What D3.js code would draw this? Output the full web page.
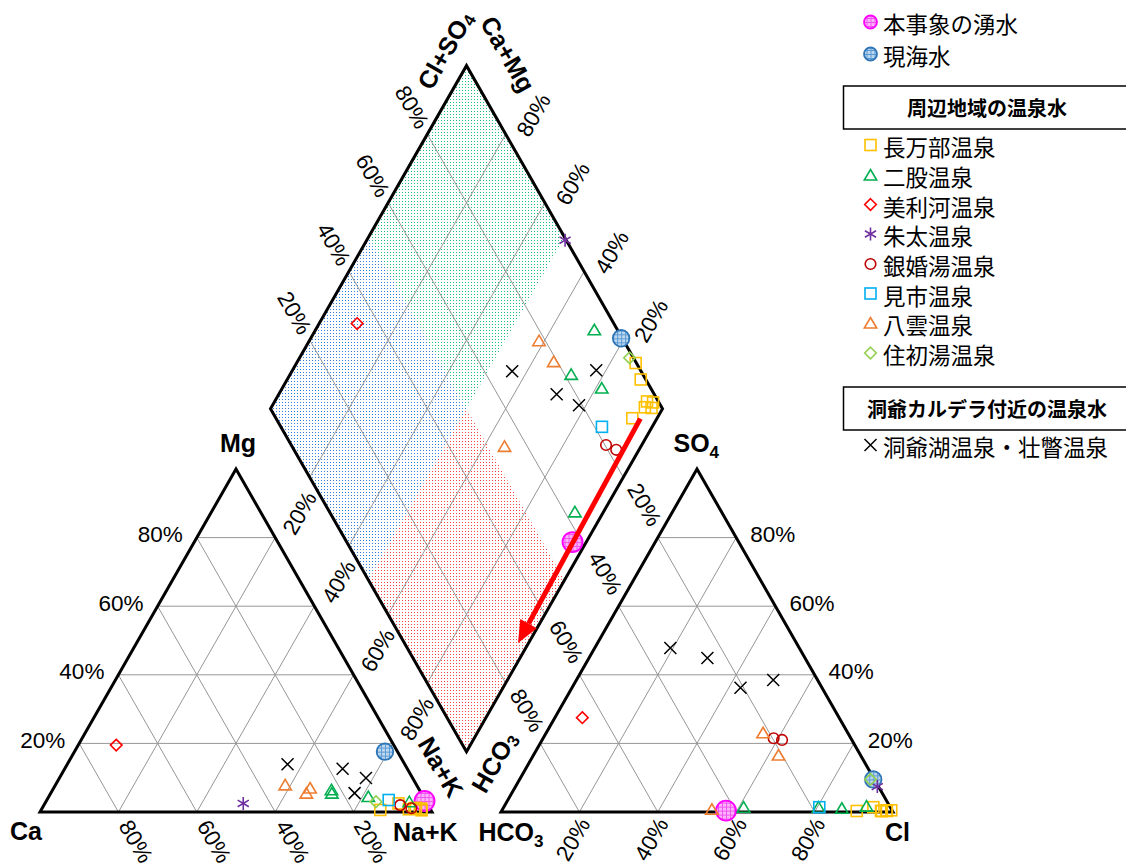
<!DOCTYPE html>
<html><head><meta charset="utf-8">
<script src="https://cdn.jsdelivr.net/npm/d3@7"></script>
<style>
body{margin:0;background:#fff;}
svg{display:block;font-family:Arial,"Liberation Sans",sans-serif;}
</style></head><body>
<svg id="c" width="1126" height="864"></svg>
<script>
// ---------- DATA (meq%) : each sample = [Mg%, Na+K%, SO4%, Cl%] ; Ca% = 100-Mg-NaK, HCO3% = 100-SO4-Cl
const percentTicks = [20, 40, 60, 80];
const tickLabels = ["20%", "40%", "60%", "80%"];
const seriesNames = ["本事象の湧水", "現海水", "長万部温泉", "二股温泉", "美利河温泉", "朱太温泉",
  "銀婚湯温泉", "見市温泉", "八雲温泉", "住初湯温泉", "洞爺湖温泉・壮瞥温泉"];
const springWater = [[3.2, 96.5, 0.4, 57.2]];
const seaWater = [[17.6, 79.2, 9.5, 90.2]];
const oshamambe = [[0.6, 86.5, 0.5, 99.3], [2.5, 90.2, 0.5, 98.2], [1.0, 95.0, 0.3, 96.8],
  [1.0, 96.7, 0.3, 98.2], [0.5, 97.1, 0.3, 97.0], [1.2, 95.3, 1.4, 94.3], [0.8, 93.7, 0.3, 90.6]];
const futamata = [[6.5, 71.1, 1.7, 92.4], [5.5, 71.7, 1.4, 80.3], [4.5, 81.5, 1.1, 86.4], [3.0, 92.7, 1.4, 61.2]];
const pirika = [[19.5, 9.7, 27.5, 7.0]];
const shuta = [[2.5, 50.6, 7.4, 92.3]];
const ginkonyu = [[2.0, 90.9, 21.5, 58.8], [1.1, 94.2, 21.0, 61.2]];
const miichi = [[3.5, 87.2, 1.4, 80.5]];
const yakumo = [[7.9, 58.6, 23.1, 55.3], [7.0, 65.4, 16.6, 62.5], [5.5, 65.2, 0.8, 53.4]];
const sumizomeyu = [[3.0, 84.2, 9.5, 89.5]];
const toya = [[13.9, 56.2, 47.8, 19.3], [12.6, 70.9, 44.9, 30.2], [9.9, 78.2, 36.2, 43.0], [5.5, 77.5, 38.5, 50.2]];
// arrow annotation in diamond units: [Na+K%, Cl+SO4%] tail -> head
const arrowFrom = [95.8, 92.9];
const arrowTo = [97.3, 29.0];

// ---------- SERIES TABLE
const series = [
  {name: seriesNames[0], data: springWater, shape: "bigcircle", color: "#ff00ff", fill: "url(#hatchPink)", r: 10, lr: 6.5},
  {name: seriesNames[1], data: seaWater, shape: "bigcircle", color: "#2e75b6", fill: "url(#hatchBlue)", r: 8.3, lr: 6.5},
  {name: seriesNames[2], data: oshamambe, shape: "square", color: "#ffc000"},
  {name: seriesNames[3], data: futamata, shape: "triangle", color: "#00b050"},
  {name: seriesNames[4], data: pirika, shape: "diamond", color: "#ff0000"},
  {name: seriesNames[5], data: shuta, shape: "asterisk", color: "#7030a0"},
  {name: seriesNames[6], data: ginkonyu, shape: "circle", color: "#c00000"},
  {name: seriesNames[7], data: miichi, shape: "square", color: "#00b0f0"},
  {name: seriesNames[8], data: yakumo, shape: "triangle", color: "#ed7d31"},
  {name: seriesNames[9], data: sumizomeyu, shape: "diamond", color: "#92d050"},
  {name: seriesNames[10], data: toya, shape: "x", color: "#000000"}
];

// ---------- SCALES (unit ternary space -> pixels)
const G = 0.176, H = Math.sqrt(3) / 2;
const x = d3.scaleLinear().domain([0, 2 + G]).range([40, 893]);
const y = d3.scaleLinear().domain([0, H]).range([812, 469]);
const cat = (mg, na) => [x(na / 100 + mg / 200), y(mg / 100 * H)];
const ani = (so4, cl) => [x(1 + G + cl / 100 + so4 / 200), y(so4 / 100 * H)];
const dia = (na, cs) => { const a = 1 - na / 100, b = cs / 100; return [x(1 + G / 2 + 0.5 * (b - a)), y(G * H + H * (a + b))]; };

const svg = d3.select("#c");
const defs = svg.append("defs");
function dotPattern(id, color) {
  const p = defs.append("pattern").attr("id", id).attr("patternUnits", "userSpaceOnUse").attr("width", 3).attr("height", 3);
  p.append("rect").attr("width", 1).attr("height", 1).attr("fill", color);
}
dotPattern("dotG", "#19c07a");
dotPattern("dotB", "#2f7fe0");
dotPattern("dotR", "#ff4040");
function hatch(id, bg, line) {
  const p = defs.append("pattern").attr("id", id).attr("patternUnits", "userSpaceOnUse").attr("width", 4).attr("height", 4);
  p.append("rect").attr("width", 4).attr("height", 4).attr("fill", bg);
  p.append("rect").attr("width", 4).attr("height", 1).attr("fill", line);
  p.append("rect").attr("width", 1).attr("height", 4).attr("fill", line);
}
hatch("hatchPink", "#ffb3ff", "#ee55ee");
hatch("hatchBlue", "#bdd7ee", "#5b9bd5");

const line = d3.line();
// ---------- SHADING in diamond
const shade = [
  {fill: "url(#dotG)", pts: [dia(50, 50), dia(0, 50), dia(0, 100), dia(50, 100)]},
  {fill: "url(#dotB)", pts: [dia(50, 50), dia(0, 50), dia(0, 0), dia(50, 0)]},
  {fill: "url(#dotR)", pts: [dia(50, 50), dia(100, 50), dia(100, 0), dia(50, 0)]}
];
svg.append("g").selectAll("path").data(shade).join("path")
  .attr("d", d => line(d.pts) + "Z").attr("fill", d => d.fill);

// ---------- GRID
const grid = [];
percentTicks.forEach(p => {
  grid.push([cat(p, 0), cat(p, 100 - p)], [cat(0, p), cat(100 - p, p)], [cat(0, 100 - p), cat(100 - p, 0)]);
  grid.push([ani(p, 0), ani(p, 100 - p)], [ani(0, p), ani(100 - p, p)], [ani(0, 100 - p), ani(100 - p, 0)]);
  grid.push([dia(p, 0), dia(p, 100)], [dia(0, p), dia(100, p)]);
});
svg.append("g").selectAll("path").data(grid).join("path")
  .attr("d", d => line(d)).attr("stroke", "#969696").attr("stroke-width", 1).attr("fill", "none");

// ---------- OUTLINES
const outlines = [
  [cat(0, 0), cat(100, 0), cat(0, 100)],
  [ani(0, 0), ani(100, 0), ani(0, 100)],
  [dia(100, 0), dia(0, 0), dia(0, 100), dia(100, 100)]
];
svg.append("g").selectAll("path").data(outlines).join("path")
  .attr("d", d => line(d) + "Z").attr("stroke", "#000").attr("stroke-width", 3)
  .attr("fill", "none").attr("stroke-linejoin", "miter");

// ---------- TICK LABELS
const tl = svg.append("g").attr("font-size", 22.5).attr("fill", "#000");
function lab(px, py, rot, txt, anchor) {
  tl.append("text").attr("transform", `translate(${px},${py}) rotate(${rot})`)
    .attr("text-anchor", anchor).attr("dominant-baseline", "central").text(txt);
}
percentTicks.forEach((p, i) => {
  const t = tickLabels[i];
  let q;
  q = cat(p, 0); lab(q[0] - 14, q[1] - 3, 0, t, "end");                 // Mg %
  q = cat(0, 100 - p); lab(q[0] + 6, 822, 60, t, "start");              // Ca %
  q = ani(p, 100 - p); lab(q[0] + 14, q[1] - 3, 0, t, "start");         // SO4 %
  q = ani(0, p); lab(q[0] + 5, 820, -60, t, "end");                     // Cl %
  q = dia(0, p); lab(q[0] - 15.5, q[1] - 27, 60, t, "middle");          // Cl+SO4 %
  q = dia(100 - p, 100); lab(q[0] + 28, q[1] - 19, -60, t, "middle");   // Ca+Mg %
  q = dia(p, 0); lab(q[0] - 10, q[1] + 36, -60, t, "middle");           // Na+K %
  q = dia(100, 100 - p); lab(q[0] + 21, q[1] + 27.5, 60, t, "middle");  // HCO3 %
});

// ---------- AXIS TITLES
const tt = svg.append("g").attr("font-size", 25).attr("font-weight", "bold").attr("fill", "#000");
function title(pt, dx, dy, rot, parts, anchor, baseline) {
  const t = tt.append("text").attr("transform", `translate(${pt[0] + dx},${pt[1] + dy}) rotate(${rot})`)
    .attr("text-anchor", anchor).attr("dominant-baseline", baseline || "auto");
  parts.forEach(([s, sub]) => {
    const sp = t.append("tspan").text(s);
    if (sub) sp.attr("font-size", 17).attr("dy", 6);
  });
}
title(cat(100, 0), 2, -17, 0, [["Mg"]], "middle");
title(cat(0, 0), -30, 28, 0, [["Ca"]], "start");
title(cat(0, 100), -39, 29, 0, [["Na+K"]], "start");
title(ani(0, 0), -22.5, 29, 0, [["HCO"], ["3", 1]], "start");
title(ani(0, 100), -8, 29, 0, [["Cl"]], "start");
title(ani(100, 0), -23.5, -17, 0, [["SO"], ["4", 1]], "start");
title(dia(0, 100), -21.5, -15.6, -60, [["Cl+SO"], ["4", 1]], "middle", "central");
title(dia(0, 100), 41.5, -11.6, 60, [["Ca+Mg"]], "middle", "central");
title(dia(100, 0), -25.5, 15.4, 60, [["Na+K"]], "middle", "central");
title(dia(100, 0), 27.5, 10.4, -60, [["HCO"], ["3", 1]], "middle", "central");

// ---------- MARKERS
function drawMarker(gsel, s, small) {
  const c = s.color;
  switch (s.shape) {
    case "bigcircle":
      gsel.append("circle").attr("r", small ? s.lr : s.r).attr("fill", s.fill).attr("stroke", c).attr("stroke-width", 1.8); break;
    case "square":
      gsel.append("rect").attr("x", -5.5).attr("y", -5.5).attr("width", 11).attr("height", 11)
        .attr("fill", "none").attr("stroke", c).attr("stroke-width", 1.6); break;
    case "triangle":
      gsel.append("path").attr("d", "M0,-5.5L6.2,5L-6.2,5Z").attr("fill", "none").attr("stroke", c).attr("stroke-width", 1.6); break;
    case "diamond":
      gsel.append("path").attr("d", "M0,-5.8L5.8,0L0,5.8L-5.8,0Z").attr("fill", "none").attr("stroke", c).attr("stroke-width", 1.6); break;
    case "circle":
      gsel.append("circle").attr("r", 5.3).attr("fill", "none").attr("stroke", c).attr("stroke-width", 1.6); break;
    case "asterisk":
      gsel.append("path").attr("d", "M0,-6.5L0,6.5M-5.6,-3.3L5.6,3.3M-5.6,3.3L5.6,-3.3").attr("stroke", c).attr("stroke-width", 1.6); break;
    case "x":
      gsel.append("path").attr("d", "M-6,-6L6,6M-6,6L6,-6").attr("stroke", c).attr("stroke-width", 1.5); break;
  }
}
const pts = svg.append("g");
series.forEach(s => {
  s.data.forEach(d => {
    const [mg, na, so4, cl] = d;
    [cat(mg, na), ani(so4, cl), dia(na, so4 + cl)].forEach(p => {
      drawMarker(pts.append("g").attr("transform", `translate(${p[0]},${p[1]})`), s, false);
    });
  });
});

// ---------- ARROW
const a0 = dia(arrowFrom[0], arrowFrom[1]), a1 = dia(arrowTo[0], arrowTo[1]);
const ang = Math.atan2(a1[1] - a0[1], a1[0] - a0[0]);
const headLen = 22, headW = 9.5;
const base = [a1[0] - headLen * Math.cos(ang), a1[1] - headLen * Math.sin(ang)];
svg.append("path").attr("d", line([a0, base])).attr("stroke", "#ff0000").attr("stroke-width", 5).attr("fill", "none");
svg.append("path").attr("d", line([a1,
  [base[0] + headW * Math.sin(ang), base[1] - headW * Math.cos(ang)],
  [base[0] - headW * Math.sin(ang), base[1] + headW * Math.cos(ang)]]) + "Z").attr("fill", "#ff0000");

// ---------- LEGEND
const lg = svg.append("g").attr("font-family", "'Noto Sans CJK JP', sans-serif");
const legendRows = [
  {s: 0, y: 22}, {s: 1, y: 54},
  {box: "周辺地域の温泉水", y0: 86, y1: 129},
  {s: 2, y: 145}, {s: 3, y: 175}, {s: 4, y: 204.5}, {s: 5, y: 234}, {s: 6, y: 264},
  {s: 7, y: 293.5}, {s: 8, y: 323}, {s: 9, y: 353},
  {box: "洞爺カルデラ付近の温泉水", y0: 387, y1: 430},
  {s: 10, y: 445}
];
legendRows.forEach(r => {
  if (r.box) {
    lg.append("rect").attr("x", 843.5).attr("y", r.y0).attr("width", 300).attr("height", r.y1 - r.y0)
      .attr("fill", "#fff").attr("stroke", "#000").attr("stroke-width", 1.5);
    lg.append("text").attr("x", 987).attr("y", (r.y0 + r.y1) / 2).attr("text-anchor", "middle")
      .attr("dominant-baseline", "central").attr("font-size", 20).attr("font-weight", "bold").text(r.box);
  } else {
    const s = series[r.s];
    drawMarker(lg.append("g").attr("transform", `translate(870.5,${r.y})`), s, true);
    lg.append("text").attr("x", 883).attr("y", r.y + 1).attr("dominant-baseline", "central")
      .attr("font-size", 22.5).text(s.name);
  }
});
</script></body></html>
